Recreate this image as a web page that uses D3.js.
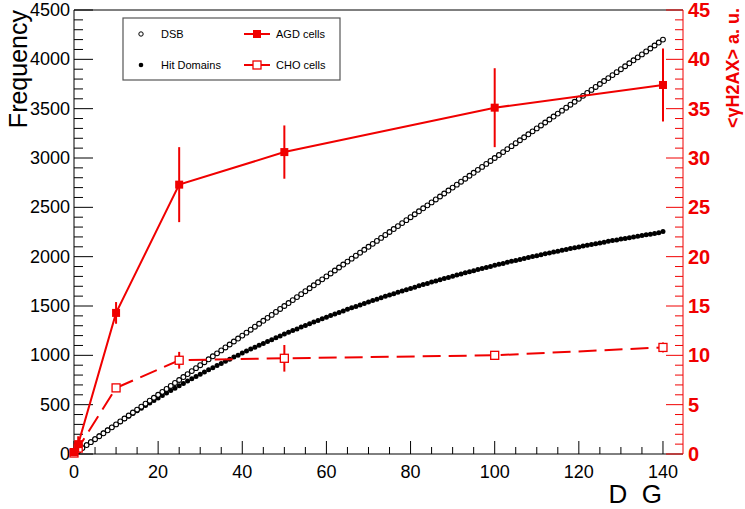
<!DOCTYPE html>
<html>
<head>
<meta charset="utf-8">
<script src="https://cdn.jsdelivr.net/npm/d3@7"></script>
<style>
  body { margin: 0; background: #fff; }
  text { font-family: "Liberation Sans", Arial, sans-serif; }
</style>
</head>
<body>
<div id="chart"></div>
<script>
// dose values (Gy) for the simulation curves
var doses = [];
for (var i = 0; i <= 140; i++) doses.push(i);

// DSB frequency per dose
var dsb = [0,30,60,90,120,150,180,210,240,270,
  300,330,360,390,420,450,480,510,540,570,
  600,630,660,690,720,750,780,810,840,870,
  900,930,960,990,1020,1050,1080,1110,1140,1170,
  1200,1230,1260,1290,1320,1350,1380,1410,1440,1470,
  1500,1530,1560,1590,1620,1650,1680,1710,1740,1770,
  1800,1830,1860,1890,1920,1950,1980,2010,2040,2070,
  2100,2130,2160,2190,2220,2250,2280,2310,2340,2370,
  2400,2430,2460,2490,2520,2550,2580,2610,2640,2670,
  2700,2730,2760,2790,2820,2850,2880,2910,2940,2970,
  3000,3030,3060,3090,3120,3150,3180,3210,3240,3270,
  3300,3330,3360,3390,3420,3450,3480,3510,3540,3570,
  3600,3630,3660,3690,3720,3750,3780,3810,3840,3870,
  3900,3930,3960,3990,4020,4050,4080,4110,4140,4170,
  4200];

// hit domains per dose
var hitDomains = [0,31,63,93,124,154,184,213,242,271,
  300,328,356,383,411,438,464,491,517,542,
  568,593,618,643,667,691,715,739,762,785,
  808,830,853,875,897,918,940,961,982,1002,
  1023,1043,1063,1083,1102,1121,1140,1159,1178,1197,
  1215,1233,1251,1268,1286,1303,1320,1337,1354,1370,
  1387,1403,1419,1435,1450,1466,1481,1496,1511,1526,
  1541,1555,1569,1584,1598,1611,1625,1639,1652,1665,
  1678,1691,1704,1717,1729,1742,1754,1766,1778,1790,
  1802,1813,1825,1836,1847,1858,1869,1880,1891,1901,
  1912,1922,1932,1943,1953,1962,1972,1982,1992,2001,
  2010,2020,2029,2038,2047,2056,2065,2073,2082,2090,
  2099,2107,2115,2123,2131,2139,2147,2155,2163,2170,
  2178,2185,2192,2200,2207,2214,2221,2228,2235,2242,
  2255];

// measured gamma-H2AX (right axis)
var expDoses = [0, 1, 10, 25, 50, 100, 140];
var agd = [0.2, 1.0, 14.3, 27.3, 30.6, 35.1, 37.4];
var agdErr = [0.3, 0.8, 1.1, 3.8, 2.7, 4.0, 3.7];
var cho = [0.1, 0.6, 6.7, 9.5, 9.7, 10.0, 10.8];
var choErr = [0.2, 0.3, 0.3, 0.85, 1.35, 0.2, 0.5];

var xTicks = [0, 20, 40, 60, 80, 100, 120, 140];
var leftTicks = [0, 500, 1000, 1500, 2000, 2500, 3000, 3500, 4000, 4500];
var rightTicks = [0, 5, 10, 15, 20, 25, 30, 35, 40, 45];

var W = 745, H = 509;
var pLeft = 74, pRight = 683, pTop = 10, pBottom = 454;
var red = "#f00000";

var svg = d3.select("#chart").append("svg").attr("width", W).attr("height", H);

var x = d3.scaleLinear().domain([0, 144.76]).range([pLeft, pRight]);
var yL = d3.scaleLinear().domain([0, 4500]).range([pBottom, pTop]);
var yR = d3.scaleLinear().domain([0, 45]).range([pBottom, pTop]);

// frame top line
svg.append("line").attr("x1", pLeft).attr("x2", pRight).attr("y1", pTop).attr("y2", pTop)
  .attr("stroke", "#000").attr("stroke-width", 1);

// x axis (ticks pointing up)
var xMinor = d3.range(0, 145, 5);
var gx = svg.append("g").attr("transform", "translate(0," + pBottom + ")");
gx.append("line").attr("x1", pLeft).attr("x2", pRight).attr("stroke", "#000");
gx.selectAll("line.mn").data(xMinor).enter().append("line")
  .attr("x1", function(d) { return x(d); }).attr("x2", function(d) { return x(d); })
  .attr("y1", 0).attr("y2", function(d) { return d % 20 === 0 ? -13 : -7; })
  .attr("stroke", "#000");
gx.selectAll("text").data(xTicks).enter().append("text")
  .attr("x", function(d) { return x(d); }).attr("y", 24)
  .attr("text-anchor", "middle").attr("font-size", 18).attr("fill", "#000")
  .text(function(d) { return d; });

// left axis
var lMinor = d3.range(0, 4501, 100);
var gl = svg.append("g").attr("transform", "translate(" + pLeft + ",0)");
gl.append("line").attr("y1", pTop).attr("y2", pBottom).attr("stroke", "#000");
gl.selectAll("line.mn").data(lMinor).enter().append("line")
  .attr("y1", function(d) { return yL(d); }).attr("y2", function(d) { return yL(d); })
  .attr("x1", 0).attr("x2", function(d) { return d % 500 === 0 ? 19 : 9; })
  .attr("stroke", "#000");
gl.selectAll("text").data(leftTicks).enter().append("text")
  .attr("x", -4).attr("y", function(d) { return yL(d) + 6; })
  .attr("text-anchor", "end").attr("font-size", 18).attr("fill", "#000")
  .text(function(d) { return d; });

// right axis (red)
var rMinor = d3.range(0, 46, 1);
var gr = svg.append("g").attr("transform", "translate(" + pRight + ",0)");
gr.append("line").attr("y1", pTop).attr("y2", pBottom).attr("stroke", red);
gr.selectAll("line.mn").data(rMinor).enter().append("line")
  .attr("y1", function(d) { return yR(d); }).attr("y2", function(d) { return yR(d); })
  .attr("x1", 0).attr("x2", function(d) { return d % 5 === 0 ? -17 : -8; })
  .attr("stroke", red);
gr.selectAll("text").data(rightTicks).enter().append("text")
  .attr("x", 5).attr("y", function(d) { return yR(d) + 7; })
  .attr("text-anchor", "start").attr("font-size", 20).attr("font-weight", "bold")
  .attr("fill", red).text(function(d) { return d; });

// axis titles
svg.append("text").attr("transform", "translate(27,10) rotate(-90)")
  .attr("text-anchor", "end").attr("font-size", 25).attr("fill", "#000").text("Frequency");
svg.append("text").attr("transform", "translate(739,8) rotate(-90)")
  .attr("text-anchor", "end").attr("font-size", 18).attr("font-weight", "bold")
  .attr("fill", red).text("<γH2AX> a. u.");
svg.append("text").attr("x", 662).attr("y", 503).attr("text-anchor", "end")
  .attr("font-size", 26).attr("fill", "#000").text("D\u00a0\u00a0G");

// simulation markers
var pts = doses.map(function(d, i) { return { d: d, dsb: dsb[i], hit: hitDomains[i] }; });
svg.append("g").selectAll("circle").data(pts).enter().append("circle")
  .attr("cx", function(p) { return x(p.d); }).attr("cy", function(p) { return yL(p.hit); })
  .attr("r", 2.5).attr("fill", "#000");
svg.append("g").selectAll("circle").data(pts).enter().append("circle")
  .attr("cx", function(p) { return x(p.d); }).attr("cy", function(p) { return yL(p.dsb); })
  .attr("r", 2.4).attr("fill", "#fff").attr("stroke", "#000").attr("stroke-width", 1.1);

// experimental series
function drawSeries(vals, errs, dashed, filled) {
  var g = svg.append("g");
  var rows = expDoses.map(function(d, i) { return { d: d, v: vals[i], e: errs[i] }; });
  var line = d3.line().x(function(r) { return x(r.d); }).y(function(r) { return yR(r.v); });
  g.append("path").datum(rows).attr("d", line).attr("fill", "none")
    .attr("stroke", red).attr("stroke-width", 2)
    .attr("stroke-dasharray", dashed ? "18,8" : null);
  g.selectAll("line.err").data(rows).enter().append("line")
    .attr("x1", function(r) { return x(r.d); }).attr("x2", function(r) { return x(r.d); })
    .attr("y1", function(r) { return yR(r.v - r.e); }).attr("y2", function(r) { return yR(r.v + r.e); })
    .attr("stroke", red).attr("stroke-width", 2);
  g.selectAll("rect").data(rows).enter().append("rect")
    .attr("x", function(r) { return x(r.d) - 4; }).attr("y", function(r) { return yR(r.v) - 4; })
    .attr("width", 8).attr("height", 8)
    .attr("fill", filled ? red : "#fff").attr("stroke", red).attr("stroke-width", filled ? 0 : 1.3);
}
drawSeries(cho, choErr, true, false);
drawSeries(agd, agdErr, false, true);

// legend
var lg = svg.append("g");
lg.append("rect").attr("x", 123).attr("y", 18).attr("width", 217).attr("height", 62)
  .attr("fill", "#fff").attr("stroke", "#555").attr("stroke-width", 1.2);
lg.append("circle").attr("cx", 141).attr("cy", 34).attr("r", 2.2)
  .attr("fill", "#fff").attr("stroke", "#000");
lg.append("text").attr("x", 161).attr("y", 38).attr("font-size", 11).text("DSB");
lg.append("circle").attr("cx", 141).attr("cy", 65).attr("r", 2.3).attr("fill", "#000");
lg.append("text").attr("x", 161).attr("y", 69).attr("font-size", 11).text("Hit Domains");
lg.append("line").attr("x1", 244).attr("x2", 270).attr("y1", 34).attr("y2", 34)
  .attr("stroke", red).attr("stroke-width", 2);
lg.append("rect").attr("x", 253).attr("y", 30).attr("width", 8).attr("height", 8).attr("fill", red);
lg.append("text").attr("x", 276).attr("y", 38).attr("font-size", 11).text("AGD cells");
lg.append("line").attr("x1", 244).attr("x2", 270).attr("y1", 65).attr("y2", 65)
  .attr("stroke", red).attr("stroke-width", 2);
lg.append("rect").attr("x", 253).attr("y", 61).attr("width", 8).attr("height", 8)
  .attr("fill", "#fff").attr("stroke", red).attr("stroke-width", 1.3);
lg.append("text").attr("x", 276).attr("y", 69).attr("font-size", 11).text("CHO cells");
</script>
</body>
</html>
